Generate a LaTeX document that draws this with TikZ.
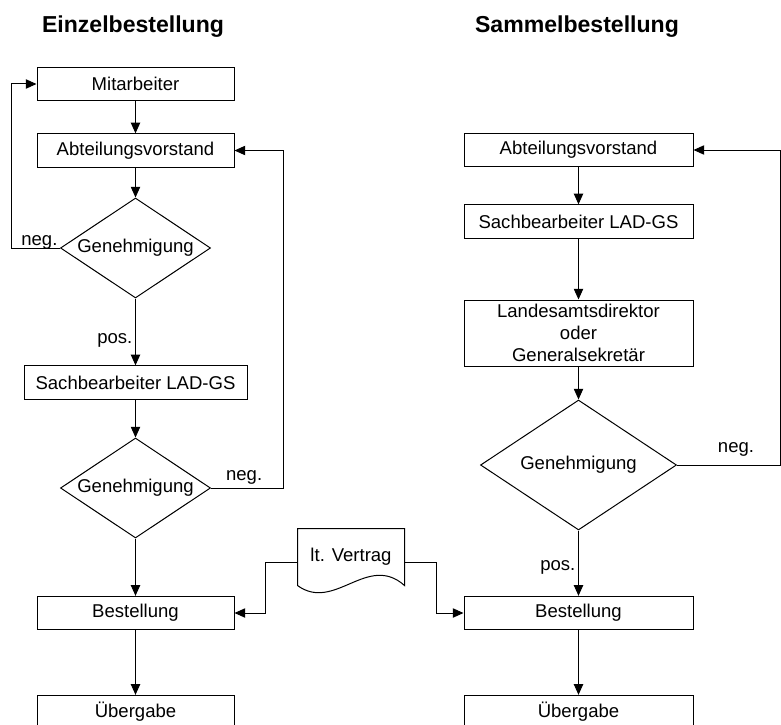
\documentclass[tikz,border=0pt]{standalone}
\usepackage{fontspec}
\setmainfont{Liberation Sans}
\usetikzlibrary{arrows.meta}
\usetikzlibrary{shapes.geometric}
\usetikzlibrary{math}

\begin{document}
\begin{tikzpicture}[x=0.75pt,y=-0.75pt,line width=0.75pt,
  font=\fontsize{13.9}{16.5}\selectfont,
  box/.style={draw,rectangle,inner sep=0pt,minimum width=147.75pt,minimum height=25pt,align=center},
  boxR/.style={box,minimum width=171.75pt},
  frage/.style={draw,diamond,aspect=1.5,inner sep=0pt,minimum width=112.5pt,minimum height=75pt},
  titel/.style={anchor=base,font=\fontsize{17.3}{20}\selectfont\bfseries},
  marke/.style={inner sep=2pt},
  pfeil/.style={-{Triangle[length=8pt,width=7pt]}}
]
\tikzmath{
\xl=135.5;%linke Spalte
\xr=578.5;%rechte Spalte
}
\useasboundingbox (0,0) rectangle (781,724);

% Einzelbestellung
\node[titel] (titelL) at (133,33) {Einzelbestellung};
\node[box] (mit) at (\xl,84) {Mitarbeiter};
\node[box] (abtL) at (\xl,150.5) {Abteilungsvorstand};
\node[frage] (gen1) at (\xl,248) {Genehmigung};
\node[box,minimum width=167.25pt] (sachL) at (\xl,382.5) {Sachbearbeiter LAD-GS};
\node[frage] (gen2) at (\xl,488) {Genehmigung};
\node[box] (bestL) at (\xl,613) {Bestellung};
\node[box] (uebL) at (\xl,712) {Übergabe};

\draw[pfeil] (mit) -- (abtL);
\draw[pfeil] (abtL) -- (gen1);
\draw[pfeil] (gen1) -- node[marke,left,pos=0.62] (pos1) {pos.} (sachL);
\draw[pfeil] (sachL) -- (gen2);
\draw[pfeil] (gen2) -- (bestL);
\draw[pfeil] (bestL) -- (uebL);
\draw[pfeil] (gen1.west) -- node[anchor=base,pos=0.42,yshift=2pt] (neg1) {neg.} ++(-49,0) |- (mit.west);
\draw[pfeil] (gen2.east) -- node[marke,above,pos=0.46] (neg2) {neg.} ++(72,0) |- (abtL.east);

% Sammelbestellung
\node[titel] (titelR) at (577,33) {Sammelbestellung};
\node[boxR] (abtR) at (\xr,150) {Abteilungsvorstand};
\node[boxR] (sachR) at (\xr,221.5) {Sachbearbeiter LAD-GS};
\node[boxR,minimum height=49.5pt] (landes) at (\xr,333) {Landesamtsdirektor\\oder\\Generalsekretär};
\node[frage,minimum width=147pt,minimum height=97.5pt] (gen3) at (\xr,465) {Genehmigung};
\node[boxR] (bestR) at (\xr,613) {Bestellung};
\node[boxR] (uebR) at (\xr,712) {Übergabe};
\coordinate (rand) at (780.5,0);

\draw[pfeil] (abtR) -- (sachR);
\draw[pfeil] (sachR) -- (landes);
\draw[pfeil] (landes) -- (gen3);
\draw[pfeil] (gen3) -- node[marke,left,pos=0.56] (pos2) {pos.} (bestR);
\draw[pfeil] (bestR) -- (uebR);
\draw[pfeil] (gen3.east) -- node[above,inner sep=6pt,pos=0.57] (neg3) {neg.} (gen3.east -| rand) |- (abtR.east);

% Vertrag
\node[inner sep=0pt,minimum width=79.5pt,minimum height=42pt] (vertrag) at (351,557) {lt. Vertrag};
\draw (vertrag.south west) -- (vertrag.north west) -- (vertrag.north east) -- (vertrag.south east)
  .. controls +(-37,-33) and +(37,27) .. (vertrag.south west);
\draw[pfeil] ([yshift=-3.75pt]vertrag.west) -- ++(-32,0) |- (bestL.east);
\draw[pfeil] ([yshift=-3.75pt]vertrag.east) -- ++(32,0) |- (bestR.west);
\end{tikzpicture}
\end{document}
